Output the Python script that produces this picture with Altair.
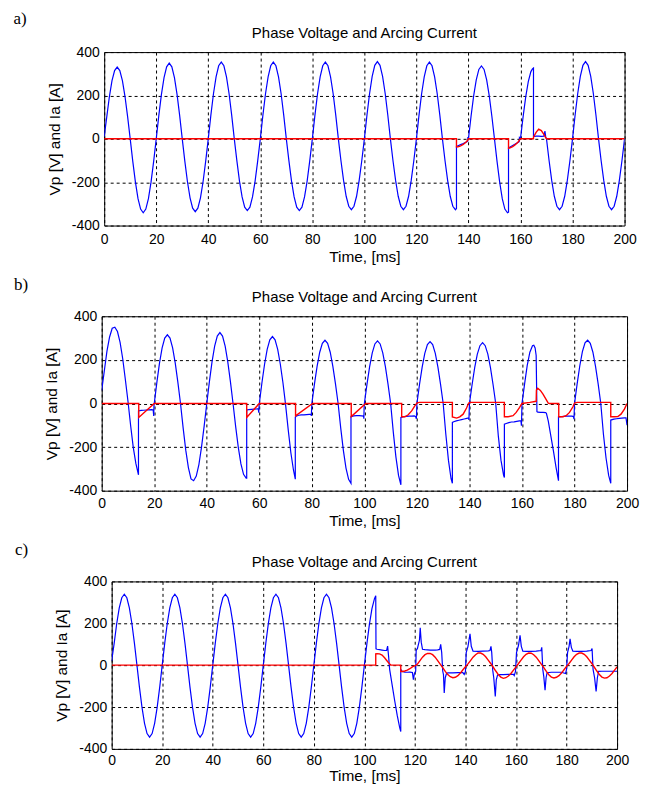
import altair as alt
import pandas as pd

# ---------------- Panel a) ----------------
a_vp = [
    (0, 10), (1, 102), (2, 195), (3, 268), (4, 315), (5, 331), (6, 315), (7, 268), (8, 195), (9, 102), (10, 0),
    (11, -105), (12, -200), (13, -276), (14, -324), (15, -341), (16, -324), (17, -276), (18, -200), (19, -105), (20, 0),
    (21, 108), (22, 205), (23, 282), (24, 332), (25, 349), (26, 332), (27, 282), (28, 205), (29, 108), (30, 0),
    (31, -104), (32, -198), (33, -272), (34, -320), (35, -336), (36, -320), (37, -272), (38, -198), (39, -104), (40, 0),
    (41, 109), (42, 208), (43, 286), (44, 337), (45, 354), (46, 337), (47, 286), (48, 208), (49, 109), (50, 0),
    (51, -102), (52, -195), (53, -268), (54, -315), (55, -331), (56, -315), (57, -268), (58, -195), (59, -102), (60, 0),
    (61, 109), (62, 208), (63, 286), (64, 337), (65, 354), (66, 337), (67, 286), (68, 208), (69, 109), (70, 0),
    (71, -102), (72, -195), (73, -268), (74, -315), (75, -331), (76, -315), (77, -268), (78, -195), (79, -102), (80, 0),
    (81, 109), (82, 208), (83, 286), (84, 337), (85, 354), (86, 337), (87, 286), (88, 208), (89, 109), (90, 0),
    (91, -101), (92, -192), (93, -265), (94, -311), (95, -327), (96, -311), (97, -265), (98, -192), (99, -101), (100, 0),
    (101, 110), (102, 209), (103, 288), (104, 339), (105, 356), (106, 339), (107, 288), (108, 209), (109, 110), (110, 0),
    (111, -101), (112, -192), (113, -265), (114, -311), (115, -327), (116, -311), (117, -265), (118, -192), (119, -101), (120, 0),
    (121, 109), (122, 208), (123, 286), (124, 337), (125, 354), (126, 337), (127, 286), (128, 208), (129, 109), (130, 0),
    (131, -101), (132, -192), (133, -265), (134, -311), (135, -327), (135.4, -322), (135.4, -35), (136, -32), (137, -27),
    (138, -22), (139, -16), (139.7, -12), (139.8, 8), (140, 0),
    (141, 104), (142, 198), (143, 272), (144, 320), (145, 336), (146, 320), (147, 272), (148, 198), (149, 104), (150, 0),
    (151, -105), (152, -200), (153, -276), (154, -324), (155, -341), (155.4, -338), (155.4, -42), (156, -38), (157, -31),
    (158, -24), (159, -17), (159.5, -13), (159.6, 6), (160, 0),
    (161, 101), (162, 192), (163, 264), (164, 310), (164.6, 322), (165, 326), (165, 10), (166, 12), (167, 12), (168, 11),
    (169, 12), (169.4, 36), (169.7, 8), (170, 0),
    (171, -101), (172, -192), (173, -265), (174, -311), (175, -327), (176, -311), (177, -265), (178, -192), (179, -101), (180, 0),
    (181, 110), (182, 209), (183, 288), (184, 339), (185, 356), (186, 339), (187, 288), (188, 209), (189, 110), (190, 0),
    (191, -101), (192, -192), (193, -265), (194, -311), (195, -327), (196, -311), (197, -265), (198, -192), (199, -101), (200, 0),
]
a_ia = [
    (0, 0), (135.4, 0), (135.4, -38), (136, -37), (137, -33), (138, -26), (139, -16), (139.7, -7), (140, 0),
    (155.4, 0), (155.4, -44), (156, -42), (157, -36), (158, -27), (159, -16), (159.6, -6), (160, 0),
    (165, 0), (165, 8), (166, 30), (167, 45), (168, 38), (169, 20), (169.7, 5), (170, 0), (200, 0),
]

# ---------------- Panel b) ----------------
b_vp = [
    (0, 60), (1, 150), (2, 240), (3, 305), (4, 345), (5, 350), (6, 330), (7, 280), (8, 205), (9, 110), (10, 10),
    (11, -100), (12, -200), (13, -275), (14, -327), (14, -34), (15, -32), (16, -31), (17, -30), (18, -29), (19, -28),
    (19.6, -30), (19.8, -57), (19.9, -10), (20, 0),
    (21, 97), (22, 185), (23, 255), (24, 300), (25, 315), (26, 300), (27, 255), (28, 185), (29, 97), (30, 0),
    (31, -112), (32, -214), (33, -294), (34, -346), (35, -354), (36, -333), (37, -280), (38, -200), (39, -104), (40, 0),
    (41, 100), (42, 191), (43, 263), (44, 309), (45, 325), (46, 309), (47, 263), (48, 191), (49, 100), (50, 0),
    (51, -106), (52, -201), (53, -277), (54, -325), (55, -342), (55.2, -342), (55.2, -30), (56, -28), (57, -27),
    (58, -26), (59, -25), (59.6, -24), (59.8, -42), (59.9, -12), (60, 0),
    (61, 95), (62, 180), (63, 248), (64, 292), (65, 307), (66, 292), (67, 248), (68, 180), (69, 95), (70, -5),
    (71, -120), (72, -225), (73, -305), (73.7, -347), (73.7, -64), (74, -58), (75, -54), (76, -52), (77, -52),
    (78, -51), (79, -50), (79.7, -50), (79.8, -57), (80, 0),
    (81, 90), (82, 170), (83, 235), (84, 276), (85, 290), (86, 276), (87, 235), (88, 170), (89, 90), (90, 0),
    (91, -113), (92, -215), (93, -296), (94, -348), (94.9, -366), (94.9, -60), (96, -57), (97, -56), (98, -56),
    (99, -57), (99.7, -58), (99.8, -70), (99.9, -20), (100, 0),
    (101, 89), (102, 169), (103, 232), (104, 273), (105, 287), (106, 273), (107, 232), (108, 169), (109, 89), (110, 0),
    (111, -130), (112, -245), (113, -330), (113.9, -373), (113.9, -64), (115, -60), (116, -59), (117, -58),
    (118, -58), (119, -57), (119.5, -60), (119.8, -70), (120, 0),
    (121, 88), (122, 167), (123, 230), (124, 270), (125, 284), (126, 270), (127, 230), (128, 167), (129, 88), (130, 0),
    (131, -140), (132, -260), (133, -345), (133.5, -366), (133.5, -87), (134, -84), (135, -80), (136, -77),
    (137, -74), (138, -71), (139, -68), (139.7, -66), (139.8, -76), (140, 0),
    (141, 86), (142, 164), (143, 226), (144, 265), (145, 279), (146, 265), (147, 226), (148, 164), (149, 86), (150, 0),
    (151, -150), (152, -260), (153, -330), (153.3, -339), (153.3, -95), (154, -92), (155, -88), (156, -85),
    (157, -84), (158, -82), (159, -80), (159.6, -80), (159.8, -102), (160, 0),
    (161, 90), (162, 175), (163, 235), (164, 265), (164.5, 267), (165, 255), (165.4, 220), (165.7, -38), (166, -40),
    (167, -41), (168, -41), (169, -42), (169.3, -45), (170, -80), (171, -150), (172, -220), (173, -295),
    (173.9, -354), (173.9, -61), (175, -60), (176, -59), (177, -58), (178, -58), (179, -58), (179.6, -60),
    (179.8, -72), (180, 0),
    (181, 90), (182, 172), (183, 238), (184, 278), (185, 290), (186, 276), (187, 235), (188, 170), (189, 90), (190, 0),
    (191, -140), (192, -250), (193, -330), (193.8, -366), (193.8, -76), (195, -72), (196, -70), (197, -68),
    (198, -67), (199, -66), (199.6, -66), (200, -100),
]
b_ia = [
    (0, 0), (14.1, 0), (14.1, -64), (20, 0), (55.2, 0), (55.2, -64), (60, 0), (73.8, 0), (73.8, -57), (80.3, 0),
    (95, 0), (95, -60), (100.5, 0), (114.2, 0), (114.2, -61), (115.4, -61), (116.7, -52), (118, -34), (119.2, -11),
    (120.1, 3), (121, 5), (133.5, 5), (133.5, -62), (135.1, -67), (136.3, -61), (137.6, -49), (138.9, -21),
    (139.7, 2), (140.5, 5), (153.3, 5), (153.3, -61), (154.7, -61), (156.6, -56), (157.8, -41), (159.1, -18),
    (160, 0), (163, 5), (165.4, 10), (165.5, 62), (166, 70), (167, 60), (168, 43), (169, 22), (170, 2), (170.5, 0),
    (174, 0), (174, -61), (175.6, -61), (176.8, -56), (178.1, -41), (179.4, -15), (180, 2), (181, 5), (193.8, 5),
    (193.8, -61), (195.2, -61), (196.5, -60), (197.7, -49), (199, -26), (200, 0),
]

# ---------------- Panel c) ----------------
c_vp = [
    (0, 20), (1, 105), (2, 199), (3, 274), (4, 322), (5, 339), (6, 322), (7, 274), (8, 199), (9, 105), (10, 0),
    (11, -106), (12, -202), (13, -278), (14, -327), (15, -344), (16, -327), (17, -278), (18, -202), (19, -106), (20, 0),
    (21, 105), (22, 199), (23, 274), (24, 322), (25, 339), (26, 322), (27, 274), (28, 199), (29, 105), (30, 0),
    (31, -106), (32, -202), (33, -278), (34, -327), (35, -344), (36, -327), (37, -278), (38, -202), (39, -106), (40, 0),
    (41, 105), (42, 199), (43, 274), (44, 322), (45, 339), (46, 322), (47, 274), (48, 199), (49, 105), (50, 0),
    (51, -106), (52, -202), (53, -278), (54, -327), (55, -344), (56, -327), (57, -278), (58, -202), (59, -106), (60, 0),
    (61, 105), (62, 199), (63, 274), (64, 322), (65, 339), (66, 322), (67, 274), (68, 199), (69, 105), (70, 0),
    (71, -106), (72, -202), (73, -278), (74, -327), (75, -344), (76, -327), (77, -278), (78, -202), (79, -106), (80, 0),
    (81, 105), (82, 199), (83, 274), (84, 322), (85, 339), (86, 322), (87, 274), (88, 199), (89, 105), (90, 0),
    (91, -106), (92, -202), (93, -278), (94, -327), (95, -344), (96, -327), (97, -278), (98, -202), (99, -106), (100, 0),
    (101, 103), (102, 196), (103, 270), (104, 318), (104.5, 331), (104.6, 78), (105, 76), (106, 74), (107, 72),
    (108, 70), (108.8, 70), (109.2, 91), (109.6, 40), (110, -20), (111, -95), (112, -170), (113, -240), (114, -300),
    (114.4, -317), (114.4, -21), (115, -30), (116, -33), (117, -34), (118, -33), (119, -35), (119.4, -69),
    (119.8, -40), (120.3, -30), (120.5, 70), (121, 80), (121.8, 120), (122.1, 179), (122.5, 110), (123, 76),
    (124, 74), (125, 73), (126, 72), (127, 72), (128, 72), (129, 73), (129.8, 75), (130.2, 99), (130.6, 60),
    (131, -28), (131.3, -45), (131.6, -133), (132, -60), (132.5, -40), (133, -37), (135, -37), (137, -36),
    (139, -36), (139.5, -45), (140, -30), (140.3, 60), (141, 90), (141.8, 150), (142.3, 90), (143, 67), (145, 66),
    (147, 67), (149, 68), (149.7, 70), (150.1, 90), (150.4, 60), (150.8, -25), (151.2, -60), (151.8, -149),
    (152.2, -70), (152.7, -48), (153, -45), (155, -45), (157, -44), (159, -44), (159.3, -50), (159.8, -30),
    (160.2, 60), (161, 95), (161.6, 142), (162.1, 90), (162.7, 67), (164, 66), (166, 66), (168, 67), (169.9, 70),
    (170.2, 85), (170.6, -20), (171, -55), (171.5, -120), (171.9, -60), (172.3, -36), (174, -34), (176, -34),
    (178, -34), (179.6, -40), (180, -20), (180.4, 60), (181, 90), (181.4, 126), (181.9, 85), (182.5, 67), (184, 66),
    (186, 66), (188, 67), (189.7, 70), (190.1, 80), (190.5, -20), (191.1, -60), (191.7, -125), (192.2, -60),
    (192.7, -30), (194, -29), (196, -29), (198, -29), (200, -29),
]
c_ia = [
    (0, 0), (104.5, 0), (104.5, 54), (105, 55), (106, 54), (107, 48), (108, 35), (109, 20), (110, 5), (110.5, 0),
    (114.4, 0), (114.4, -30), (115, -30), (116, -28), (117, -24), (118, -17), (119, -8), (120, -2), (120.5, 0),
    (121, 5), (122, 22), (123, 38), (124, 50), (125, 56), (126, 56), (127, 50), (128, 38), (129, 22), (130, 5),
    (131, -12), (132, -30), (133, -45), (134, -55), (135, -60), (136, -58), (137, -50), (138, -38), (139, -22),
    (140, -8), (141, 6), (142, 22), (143, 38), (144, 50), (145, 58), (146, 58), (147, 52), (148, 40), (149, 24),
    (150, 8), (151, -10), (152, -28), (153, -45), (154, -57), (155, -63), (156, -60), (157, -52), (158, -40),
    (159, -24), (160, -8), (161, 8), (162, 24), (163, 40), (164, 52), (165, 58), (166, 57), (167, 50), (168, 38),
    (169, 22), (170, 5), (171, -12), (172, -30), (173, -46), (174, -57), (175, -61), (176, -58), (177, -50),
    (178, -38), (179, -22), (180, -6), (181, 8), (182, 24), (183, 40), (184, 52), (185, 58), (186, 58), (187, 52),
    (188, 40), (189, 24), (190, 8), (191, -10), (192, -28), (193, -45), (194, -57), (195, -62), (196, -60),
    (197, -52), (198, -40), (199, -24), (200, -8),
]

x_ticks = [0, 20, 40, 60, 80, 100, 120, 140, 160, 180, 200]
y_ticks = [-400, -200, 0, 200, 400]
title_text = "Phase Voltage and Arcing Current"
x_title = "Time, [ms]"
y_title = "Vp [V] and Ia [A]"


def frame(pairs):
    return pd.DataFrame({
        "t": [p[0] for p in pairs],
        "v": [p[1] for p in pairs],
        "i": list(range(len(pairs))),
    })


def panel(vp, ia, label, w, h, lx, ly, lab_pad, ttl_pad):
    xs = alt.Scale(domain=[0, 200], nice=False, zero=False)
    ys = alt.Scale(domain=[-400, 400], nice=False, zero=False)
    xaxis = alt.Axis(values=x_ticks, title=x_title, grid=True, ticks=False, domain=False,
                     labelPadding=lab_pad, titlePadding=ttl_pad, labelFlush=False, labelOverlap=False,
                     labelExpr="'' + datum.value")
    yaxis = alt.Axis(values=y_ticks, title=y_title, grid=True, ticks=False, domain=False,
                     labelPadding=5, titlePadding=9, labelFlush=False, labelOverlap=False,
                     labelExpr="'' + datum.value")
    blue = alt.Chart(frame(vp)).mark_line(color="#0000ff", strokeWidth=1.2, clip=True).encode(
        x=alt.X("t:Q", scale=xs, axis=xaxis),
        y=alt.Y("v:Q", scale=ys, axis=yaxis),
        order=alt.Order("i:Q"),
    )
    red = alt.Chart(frame(ia)).mark_line(color="#ff0000", strokeWidth=1.4, clip=True).encode(
        x=alt.X("t:Q", scale=xs, axis=xaxis),
        y=alt.Y("v:Q", scale=ys, axis=yaxis),
        order=alt.Order("i:Q"),
    )
    lab = alt.Chart(pd.DataFrame({"s": [label]})).mark_text(
        align="left", baseline="alphabetic", font="Liberation Serif", fontSize=17, color="black"
    ).encode(text="s:N", x=alt.value(lx), y=alt.value(ly))
    ttl = alt.Chart(pd.DataFrame({"s": [title_text]})).mark_text(
        align="center", baseline="bottom", font="Liberation Sans", fontSize=15, color="black"
    ).encode(text="s:N", x=alt.value(w / 2), y=alt.value(-11))
    return alt.layer(blue, red, lab, ttl).properties(width=w, height=h)


pa = panel(a_vp, a_ia, "a)", 522, 174, -91, -28, 7, 3)
pb = panel(b_vp, b_ia, "b)", 527, 175, -88, -26, 6, 3)
pc = panel(c_vp, c_ia, "c)", 507, 168, -97, -27, 5, 1)

chart = alt.vconcat(pa, pb, pc, spacing=91, center=True, bounds="flush").properties(
    padding={"left": 5, "top": 0, "right": 2, "bottom": 0}
).configure_view(
    stroke="black", strokeWidth=1
).configure_axis(
    labelFont="Liberation Sans", labelFontSize=14, labelColor="black",
    titleFont="Liberation Sans", titleFontSize=15.5, titleFontWeight="normal", titleColor="black",
    gridColor="black", gridDash=[3, 3], gridWidth=1, gridOpacity=1,
)

chart.save("out.html", embed_options={"renderer": "svg", "actions": False})
